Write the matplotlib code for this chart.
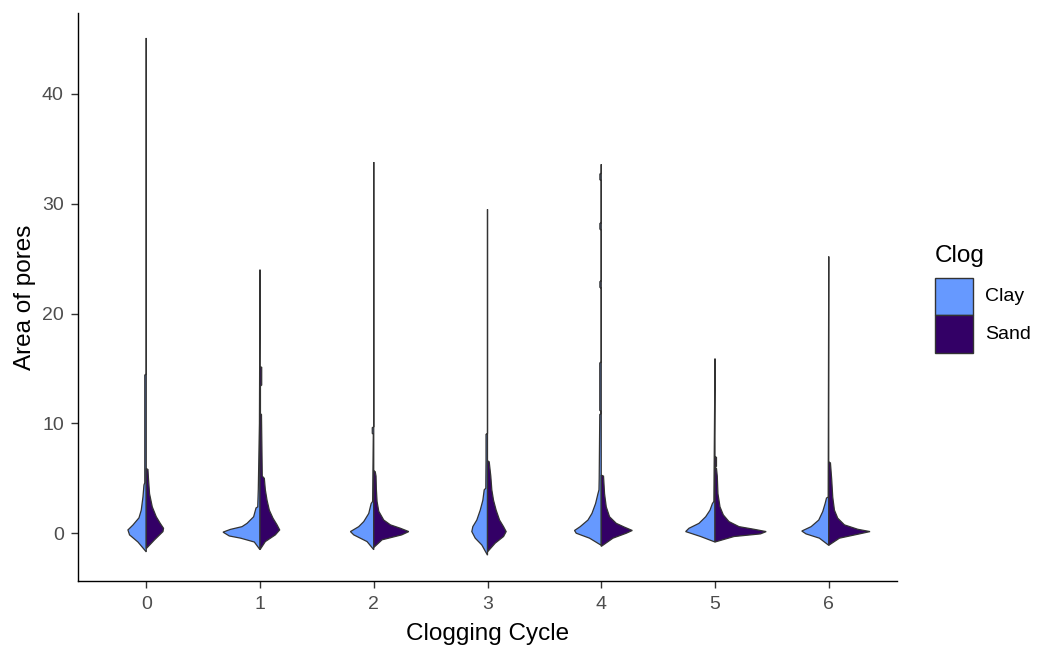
import matplotlib
matplotlib.use("Agg")
import matplotlib.pyplot as plt
from matplotlib.patches import Polygon, Rectangle

plt.rcParams['font.family'] = ['Liberation Sans', 'DejaVu Sans']

cycles = [0, 1, 2, 3, 4, 5, 6]
clogs = ["Clay", "Sand"]
clog_colors = ["#6699FF", "#330066"]
y_ticks = [0, 10, 20, 30, 40]

# half-violin outlines: (area of pores, half width in x units)
clay_0 = [(-1.7, 0), (-0.8, 0.073), (-0.15, 0.147), (0.3, 0.161), (0.75, 0.117), (1.4, 0.064),
          (2.1, 0.044), (3.3, 0.029), (4.4, 0.02), (4.6, 0.013), (14.4, 0.013), (14.5, 0), (45.1, 0)]
sand_0 = [(-1.4, 0), (-0.6, 0.073), (0.15, 0.147), (0.45, 0.152), (0.9, 0.123), (1.5, 0.088),
          (2.4, 0.053), (3.6, 0.029), (4.9, 0.02), (5.8, 0.015), (5.9, 0)]
clay_1 = [(-1.5, 0), (-0.8, 0.05), (-0.45, 0.17), (-0.25, 0.27), (0.1, 0.325), (0.35, 0.26),
          (0.6, 0.158), (0.9, 0.114), (1.5, 0.056), (2.3, 0.035), (2.4, 0.02), (4.0, 0.015),
          (10.0, 0.005), (24.0, 0)]
sand_1 = [(-1.5, 0), (-0.76, 0.047), (-0.15, 0.135), (0.3, 0.173), (0.76, 0.15), (1.37, 0.114),
          (2.1, 0.082), (3.0, 0.062), (3.95, 0.047), (5.0, 0.038), (5.2, 0.02), (10.8, 0.013),
          (10.9, 0.004), (13.4, 0.004), (13.5, 0.015), (15.1, 0.015), (15.2, 0)]
clay_2 = [(-1.5, 0), (-0.76, 0.059), (-0.15, 0.176), (0.15, 0.205), (0.6, 0.132), (1.06, 0.088),
          (1.8, 0.044), (2.7, 0.023), (2.9, 0.01), (9.0, 0.004), (9.1, 0.013), (9.6, 0.013),
          (9.7, 0), (33.8, 0)]
sand_2 = [(-1.3, 0), (-0.6, 0.073), (-0.15, 0.246), (0.15, 0.308), (0.45, 0.235), (0.76, 0.147),
          (1.2, 0.088), (2.0, 0.044), (2.9, 0.029), (4.0, 0.023), (5.2, 0.02), (5.6, 0.013), (5.7, 0)]
clay_3 = [(-2.0, 0), (-1.07, 0.05), (-0.45, 0.108), (0.15, 0.138), (0.6, 0.129), (1.2, 0.094),
          (2.1, 0.064), (3.0, 0.041), (3.95, 0.029), (4.1, 0.015), (6.6, 0.013), (9.0, 0.013),
          (9.1, 0), (29.5, 0)]
sand_3 = [(-1.7, 0), (-0.9, 0.068), (-0.3, 0.141), (0.15, 0.164), (0.6, 0.141), (1.2, 0.106),
          (2.1, 0.076), (3.0, 0.053), (3.95, 0.038), (5.2, 0.029), (6.5, 0.015), (6.6, 0)]
clay_4 = [(-1.1, 0), (-0.45, 0.103), (0.0, 0.22), (0.25, 0.235), (0.6, 0.185), (1.2, 0.117),
          (1.8, 0.082), (2.7, 0.05), (3.6, 0.029), (3.95, 0.02), (5.0, 0.018), (10.8, 0.013),
          (10.9, 0.004), (11.1, 0.004), (11.2, 0.013), (15.5, 0.013), (15.6, 0), (22.3, 0),
          (22.4, 0.012), (22.9, 0.012), (23.0, 0), (27.6, 0), (27.7, 0.012), (28.2, 0.012),
          (28.3, 0), (32.1, 0), (32.2, 0.012), (32.7, 0.012), (32.8, 0), (33.6, 0)]
sand_4 = [(-1.2, 0), (-0.45, 0.103), (0.0, 0.22), (0.25, 0.273), (0.55, 0.205), (0.9, 0.132),
          (1.5, 0.073), (2.4, 0.044), (3.6, 0.029), (5.2, 0.02), (5.3, 0)]
clay_5 = [(-0.8, 0), (-0.3, 0.126), (0.15, 0.258), (0.45, 0.229), (0.9, 0.141), (1.5, 0.082),
          (2.1, 0.044), (2.7, 0.023), (2.9, 0.01), (15.9, 0)]
sand_5 = [(-0.8, 0), (-0.3, 0.167), (-0.06, 0.40), (0.15, 0.45), (0.36, 0.343), (0.6, 0.211),
          (1.06, 0.123), (1.67, 0.073), (2.4, 0.044), (3.6, 0.026), (5.2, 0.02), (5.9, 0.013),
          (6.0, 0), (6.1, 0.013), (6.9, 0.013), (7.0, 0)]
clay_6 = [(-1.1, 0), (-0.45, 0.082), (-0.06, 0.2), (0.2, 0.237), (0.6, 0.155), (1.2, 0.088),
          (1.97, 0.053), (2.7, 0.032), (3.2, 0.02), (3.3, 0.005), (25.2, 0)]
sand_6 = [(-1.1, 0), (-0.45, 0.094), (-0.06, 0.27), (0.15, 0.363), (0.36, 0.255), (0.76, 0.138),
          (1.37, 0.079), (2.1, 0.05), (3.3, 0.035), (4.9, 0.026), (6.4, 0.015), (6.5, 0)]

clay = [clay_0, clay_1, clay_2, clay_3, clay_4, clay_5, clay_6]
sand = [sand_0, sand_1, sand_2, sand_3, sand_4, sand_5, sand_6]


def half_violin(ax, center, profile, side, color):
    # outer edge going up, then back down the middle
    pts = [(center + side * w, y) for y, w in profile]
    pts += [(center, y) for y, w in reversed(profile)]
    ax.add_patch(Polygon(pts, closed=True, facecolor=color, edgecolor="#333333",
                         linewidth=0.9, joinstyle="miter"))


fig = plt.figure(figsize=[10.51, 6.46], dpi=100)
ax = fig.add_axes([78 / 1051, 1 - 581 / 646, (897 - 78) / 1051, (581 - 12.7) / 646])

for i, c in enumerate(cycles):
    half_violin(ax, c, clay[i], -1, clog_colors[0])
    half_violin(ax, c, sand[i], 1, clog_colors[1])

ax.set_xlim(-0.6, 6.6)
ax.set_ylim(-4.35, 47.4)
ax.set_xticks(cycles)
ax.set_xticklabels([str(c) for c in cycles])
ax.set_yticks(y_ticks)

for s in ["top", "right"]:
    ax.spines[s].set_visible(False)
for s in ["left", "bottom"]:
    ax.spines[s].set_linewidth(1.0)
    ax.spines[s].set_color("black")
ax.tick_params(length=4.7, width=1.0, color="#333333", labelcolor="#4D4D4D",
               labelsize=14)
ax.tick_params(axis="x", pad=6)
ax.tick_params(axis="y", pad=5.5)

ax.set_xlabel("Clogging Cycle", fontsize=17.5, labelpad=7)
ax.set_ylabel("Area of pores", fontsize=17.5, labelpad=4)

# legend drawn on the figure
fig.text(935 / 1051, 1 - 256 / 646, "Clog", fontsize=17.5, va="center", ha="left")
key_top = 277.7
for i, name in enumerate(clogs):
    y0 = key_top + i * 37.5
    fig.patches.append(Rectangle((935 / 1051, 1 - (y0 + 37.5) / 646), 37.7 / 1051, 37.5 / 646,
                                 transform=fig.transFigure, facecolor=clog_colors[i],
                                 edgecolor="#333333", linewidth=1.0))
    fig.text(985 / 1051, 1 - (y0 + 19) / 646, name, fontsize=14, va="center", ha="left")

fig.savefig("out.png", dpi=100)
